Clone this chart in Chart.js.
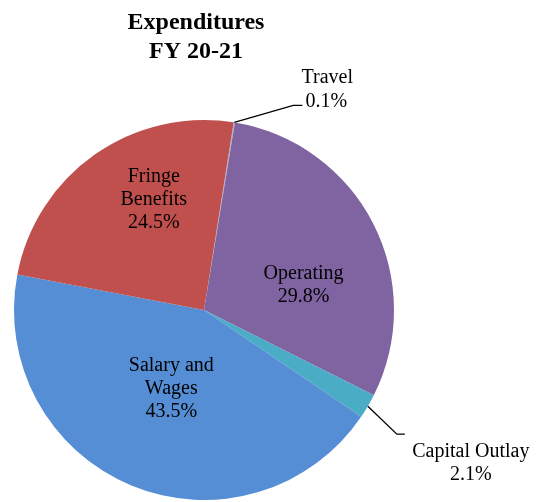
<!DOCTYPE html>
<html>
<head>
<meta charset="utf-8">
<script src="https://cdn.jsdelivr.net/npm/chart.js@4.4.0/dist/chart.umd.min.js"></script>
<style>
  body { margin: 0; background: #fff; }
  canvas { display: block; }
</style>
</head>
<body>
<canvas id="chartDespesas" width="545" height="502"></canvas>
<script>
// dados
const categorias = ['Travel', 'Operating', 'Capital Outlay', 'Salary and Wages', 'Fringe Benefits'];
const percentuais = [0.1, 29.8, 2.1, 43.5, 24.5];
const rotulos = [['Travel', '0.1%'], ['Operating', '29.8%'], ['Capital Outlay', '2.1%'], ['Salary and', 'Wages', '43.5%'], ['Fringe', 'Benefits', '24.5%']];
const cores = ['#A9B8D8', '#8064A2', '#4BACC6', '#558ED5', '#C0504D'];

// posicao dos rotulos: dentro = angulo/raio relativo, fora = linha guia
const posRotulos = [
    { fora: true, cotovelo: [59, -17], fim: 9, lado: 'dir' },
    { angulo: 76, raio: 0.54 },
    { fora: true, cotovelo: [29, 28], fim: 8, lado: 'dir' },
    { angulo: 202.5, raio: 0.45 },
    { angulo: 335.6, raio: 0.64 }
];

const fonte = '"Liberation Serif", "Times New Roman", serif';

const pluginRotulos = {
    id: 'rotulos',
    afterDraw(chart) {
        const ctx = chart.ctx;
        ctx.save();
        // titulo
        ctx.fillStyle = '#000';
        ctx.font = 'bold 24px ' + fonte;
        ctx.textAlign = 'center';
        ctx.textBaseline = 'alphabetic';
        ctx.fillText('Expenditures', 196, 29);
        ctx.fillText('FY 20-21', 196, 58);

        const arcos = chart.getDatasetMeta(0).data;
        ctx.font = '20px ' + fonte;
        ctx.fillStyle = '#000';
        arcos.forEach((arco, i) => {
            const p = posRotulos[i];
            const cx = arco.x, cy = arco.y, r = arco.outerRadius;
            const linhas = rotulos[i];
            const alt = 23;
            if (!p.fora) {
                const a = p.angulo * Math.PI / 180;
                const x = cx + Math.sin(a) * r * p.raio;
                const y = cy - Math.cos(a) * r * p.raio;
                ctx.textAlign = 'center';
                ctx.textBaseline = 'middle';
                linhas.forEach((l, k) => {
                    ctx.fillText(l, x, y + (k - (linhas.length - 1) / 2) * alt);
                });
            } else {
                const meio = (arco.startAngle + arco.endAngle) / 2;
                const x0 = cx + Math.cos(meio) * r;
                const y0 = cy + Math.sin(meio) * r;
                const x1 = x0 + p.cotovelo[0];
                const y1 = y0 + p.cotovelo[1];
                const x2 = x1 + p.fim;
                ctx.strokeStyle = '#000';
                ctx.lineWidth = 1.3;
                ctx.beginPath();
                ctx.moveTo(x0, y0);
                ctx.lineTo(x1, y1);
                ctx.lineTo(x2, y1);
                ctx.stroke();
                ctx.textBaseline = 'middle';
                ctx.textAlign = 'center';
                if (i === 0) {
                    // Travel: texto acima e a direita
                    ctx.fillText(linhas[0], x2 + 25, y1 - 28);
                    ctx.fillText(linhas[1], x2 + 24, y1 - 4);
                } else {
                    ctx.fillText(linhas[0], x2 + 66, y1 + 18);
                    ctx.fillText(linhas[1], x2 + 66, y1 + 41);
                }
            }
        });
        ctx.restore();
    }
};

new Chart(document.getElementById('chartDespesas'), {
    type: 'pie',
    data: {
        labels: categorias,
        datasets: [{
            data: percentuais,
            backgroundColor: cores,
            borderWidth: 0,
            hoverOffset: 0
        }]
    },
    options: {
        responsive: false,
        animation: false,
        rotation: 9,
        layout: {
            padding: { left: 14, right: 151, top: 120, bottom: 2 }
        },
        plugins: {
            legend: { display: false },
            title: { display: false },
            tooltip: { enabled: false }
        }
    },
    plugins: [pluginRotulos]
});
</script>
</body>
</html>
